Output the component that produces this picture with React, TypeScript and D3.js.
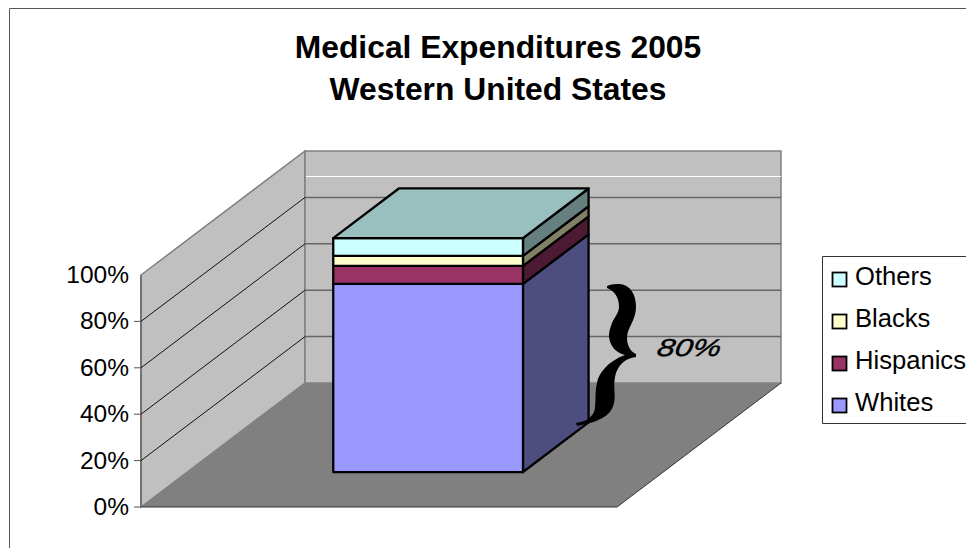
import * as React from "react";
import * as d3 from "d3";

const categories = ["2005"];
const seriesNames = ["Whites", "Hispanics", "Blacks", "Others"];
const seriesValues = [80.4, 7.7, 4.3, 7.6];
const seriesColors = ["#9999ff", "#993366", "#ffffcc", "#ccffff"];
const sideColors = ["#4d4d80", "#4d1a33", "#808066", "#668080"];
const topColor = "#99c0bf";
const yTicks = [0, 20, 40, 60, 80, 100];
const titleLines = ["Medical Expenditures 2005", "Western United States"];
const titleBaselines = [58, 100];
const legendOrder = ["Others", "Blacks", "Hispanics", "Whites"];

const font = "'Liberation Sans', Arial, sans-serif";

// floor runs from the front edge (depth 0) to the back wall (depth 1)
const left = 141;
const baseY = 507;
const floorW = 476;
const depthDx = d3.scaleLinear().domain([0, 1]).range([0, 164]);
const depthDy = d3.scaleLinear().domain([0, 1]).range([0, -124]);
const y = d3.scaleLinear().domain([0, 100]).range([0, -232]);
// the bar stands a touch taller than the axis in the original
const barV = d3.scaleLinear().domain([0, 100]).range([0, 100.85]);
const xBand = d3.scaleBand().domain(categories).range([0, floorW]).padding(0.43).align(0.51);

const project = (x: number, v: number, depth: number): [number, number] => [
  left + x + depthDx(depth),
  baseY + y(v) + depthDy(depth),
];
const poly = (pts: [number, number][]) => (d3.line()(pts) as string) + "Z";

const barFront = 0.282;
const barBack = 0.682;

const stacked = d3.stack<number[]>().keys(seriesNames.map((_, i) => String(i)) as any).value((d, k) => d[+k])([seriesValues] as any);

const bracePath =
  "M607,286 C612,284 616,284 620,284 C630,285 636,294 636,307 C636,320 627,328 627,338 " +
  "C627,346 631,352 636,354 L636,357 C625,358 617,366 615,377 C613,388 616,396 614,403 " +
  "C612,413 604,419 590,423 C586,424 581,425 577,426 L576,423 C581,422 584,421 587,420 " +
  "C592,416 595,412 595,407 C596,398 595,391 597,383 C598,374 608,361 625,355 " +
  "C616,353 610,346 609,337 C609,330 611,326 612,323 C615,316 619,313 619,307 C619,298 615,291 607,288 Z";

export default function App() {
  const x0 = xBand("2005") as number;
  const x1 = x0 + xBand.bandwidth();
  const lastTop = barV(stacked[stacked.length - 1][0][1]);
  return (
    <svg width={966} height={548} style={{ position: "absolute", left: 0, top: 0 }}>
      <rect width={966} height={548} fill="#fff" />
      <path d="M9.5,548V8.5H966" fill="none" stroke="#555" strokeWidth={1} />

      {titleLines.map((t, i) => (
        <text key={t} x={498} y={titleBaselines[i]} textAnchor="middle" fontFamily={font} fontWeight="bold" fontSize={31.8}>
          {t}
        </text>
      ))}

      {/* walls and floor */}
      <path d={poly([project(0, 0, 0), project(0, 100, 0), project(0, 100, 1), project(0, 0, 1)])} fill="#c0c0c0" stroke="#808080" strokeWidth={1.5} />
      <path d={poly([project(0, 0, 1), project(0, 100, 1), project(floorW, 100, 1), project(floorW, 0, 1)])} fill="#c0c0c0" stroke="#808080" strokeWidth={1.5} />
      <path d={poly([project(0, 0, 0), project(0, 0, 1), project(floorW, 0, 1), project(floorW, 0, 0)])} fill="#808080" />
      <path d={d3.line()([project(floorW, 0, 1), project(floorW, 0, 0), project(0, 0, 0)]) as string} fill="none" stroke="#333" strokeWidth={1} />
      <path d={d3.line()([project(0, 0, 0), project(0, 100, 0)]) as string} fill="none" stroke="#666" strokeWidth={1.5} />
      <line x1={306} x2={781} y1={176.5} y2={176.5} stroke="#fff" strokeWidth={1} />

      {/* gridlines and axis */}
      {yTicks.map((t) => {
        const a = project(0, t, 0);
        const b = project(0, t, 1);
        const c = project(floorW, t, 1);
        return (
          <g key={t}>
            {t < 100 && <line x1={a[0] - 7} x2={a[0]} y1={a[1]} y2={a[1]} stroke="#555" strokeWidth={1} />}
            {t > 0 && t < 100 && (
              <>
                <line x1={a[0]} y1={a[1]} x2={b[0]} y2={b[1]} stroke="#111" strokeWidth={1} />
                <line x1={b[0]} y1={b[1]} x2={c[0]} y2={c[1]} stroke="#666" strokeWidth={1.5} />
              </>
            )}
            <text x={129} y={a[1] + 8} textAnchor="end" fontFamily={font} fontSize={24.5} fill="#000">
              {t}%
            </text>
          </g>
        );
      })}

      {/* stacked bar: side faces, front faces, then the lid */}
      {stacked.map((s, i) => {
        const v0 = barV(s[0][0]);
        const v1 = barV(s[0][1]);
        return (
          <g key={seriesNames[i]} stroke="#000" strokeWidth={2.3} strokeLinejoin="round">
            <path d={poly([project(x1, v0, barFront), project(x1, v1, barFront), project(x1, v1, barBack), project(x1, v0, barBack)])} fill={sideColors[i]} />
            <path d={poly([project(x0, v0, barFront), project(x0, v1, barFront), project(x1, v1, barFront), project(x1, v0, barFront)])} fill={seriesColors[i]} />
          </g>
        );
      })}
      <path
        d={poly([project(x0, lastTop, barFront), project(x0, lastTop, barBack), project(x1, lastTop, barBack), project(x1, lastTop, barFront)])}
        fill={topColor}
        stroke="#000"
        strokeWidth={2.3}
        strokeLinejoin="round"
      />

      {/* annotation */}
      <path d={bracePath} fill="#000" />
      <text transform="translate(656,356) scale(1.3,1) skewX(-8)" fontFamily={font} fontStyle="italic" fontSize={24.5} fill="#000" stroke="#000" strokeWidth={0.4}>
        80%
      </text>

      {/* legend */}
      <path d="M966,256.5H822.5V423.5H966" fill="#fff" stroke="#333" strokeWidth={1} />
      {legendOrder.map((name, i) => {
        const c = seriesColors[seriesNames.indexOf(name)];
        const top = 272.5 + i * 42;
        return (
          <g key={name}>
            <rect x={832.5} y={top} width={14} height={14} fill={c} stroke="#000" strokeWidth={1.8} />
            <text x={855} y={top + 12.5} fontFamily={font} fontSize={25.6} fill="#000">
              {name}
            </text>
          </g>
        );
      })}
    </svg>
  );
}
